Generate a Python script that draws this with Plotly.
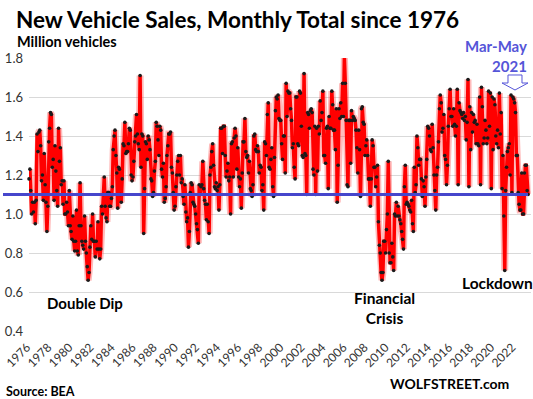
import plotly.graph_objects as go

# ---- data: monthly total new vehicle sales (million), Jan 1976 - Jun 2022 ----
y1976 = [1.18, 1.23, 1.12, 1.00, 1.06, 1.01, 1.06, 0.95, 1.07, 1.41, 1.32, 1.42]
y1977 = [1.43, 1.35, 1.17, 1.20, 1.07, 1.31, 1.15, 1.06, 0.91, 1.04, 1.37, 1.44]
y1978 = [1.52, 1.51, 1.24, 1.28, 1.07, 1.35, 1.22, 1.12, 1.04, 1.44, 1.27, 1.34]
y1979 = [1.15, 1.17, 1.05, 1.17, 1.00, 1.00, 1.06, 1.01, 0.94, 1.12, 0.94, 0.91]
y1980 = [0.87, 0.99, 0.86, 0.81, 0.86, 1.02, 0.81, 0.79, 0.94, 1.16, 0.94, 0.86]
y1981 = [0.84, 0.82, 0.99, 0.86, 0.80, 0.73, 0.66, 0.70, 0.83, 0.94, 0.87, 1.00]
y1982 = [0.86, 0.86, 0.78, 0.86, 0.82, 0.96, 0.82, 0.77, 0.82, 1.04, 1.00, 1.10]
y1983 = [1.19, 1.04, 0.98, 0.96, 1.11, 1.11, 1.04, 1.04, 1.08, 1.14, 1.33, 1.40]
y1984 = [1.43, 1.30, 1.21, 1.03, 1.24, 1.23, 1.10, 1.06, 1.18, 1.36, 1.35, 1.47]
y1985 = [1.31, 1.32, 1.32, 1.36, 1.44, 1.43, 1.20, 1.17, 1.19, 1.27, 1.37, 1.40]
y1986 = [1.51, 1.41, 1.36, 1.33, 1.71, 1.24, 1.41, 1.40, 0.90, 1.13, 1.37, 1.36]
y1987 = [1.28, 1.40, 1.38, 1.33, 1.18, 1.17, 1.09, 1.11, 1.22, 1.27, 1.47, 1.45]
y1988 = [1.38, 1.30, 1.45, 1.43, 1.23, 1.19, 1.26, 1.06, 1.08, 1.14, 1.30, 1.35]
y1989 = [1.41, 1.41, 1.42, 1.24, 1.21, 1.11, 1.02, 1.04, 1.14, 1.20, 1.27, 1.30]
y1990 = [1.20, 1.30, 1.16, 1.18, 1.09, 1.05, 1.15, 1.01, 0.96, 0.98, 0.83, 0.91]
y1991 = [1.11, 1.16, 1.15, 1.06, 1.05, 1.04, 1.00, 0.95, 0.92, 0.85, 1.15, 1.10]
y1992 = [1.14, 1.15, 1.27, 1.13, 1.07, 1.05, 0.97, 1.05, 0.96, 0.90, 1.20, 1.24]
y1993 = [1.32, 1.36, 1.25, 1.14, 1.13, 1.16, 1.12, 1.14, 1.02, 1.15, 1.44, 1.44]
y1994 = [1.31, 1.45, 1.45, 1.30, 1.19, 1.22, 1.26, 1.17, 1.19, 1.00, 1.36, 1.37]
y1995 = [1.19, 1.39, 1.44, 1.40, 1.23, 1.34, 1.19, 1.14, 1.18, 1.03, 1.21, 1.37]
y1996 = [1.37, 1.49, 1.32, 1.29, 1.30, 1.21, 1.27, 1.13, 1.12, 1.09, 1.15, 1.40]
y1997 = [1.41, 1.33, 1.32, 1.35, 1.32, 1.21, 1.25, 1.24, 1.12, 1.15, 1.02, 1.37]
y1998 = [1.36, 1.30, 1.51, 1.57, 1.24, 1.23, 1.28, 1.34, 1.14, 1.09, 1.29, 1.53]
y1999 = [1.60, 1.59, 1.61, 1.49, 1.48, 1.48, 1.36, 1.28, 1.40, 1.40, 1.21, 1.67]
y2000 = [1.50, 1.63, 1.62, 1.62, 1.54, 1.48, 1.34, 1.36, 1.24, 1.18, 1.60, 1.60]
y2001 = [1.36, 1.35, 1.63, 1.62, 1.45, 1.30, 1.29, 1.72, 1.31, 1.30, 1.10, 1.52]
y2002 = [1.51, 1.44, 1.53, 1.54, 1.52, 1.23, 1.20, 1.45, 1.10, 1.44, 1.22, 1.45]
y2003 = [1.41, 1.58, 1.48, 1.52, 1.63, 1.30, 1.30, 1.26, 1.44, 1.45, 1.13, 1.50]
y2004 = [1.44, 1.44, 1.63, 1.56, 1.43, 1.43, 1.33, 1.54, 1.06, 1.25, 1.54, 1.49]
y2005 = [1.57, 1.50, 1.67, 1.50, 1.81, 1.67, 1.48, 1.15, 1.14, 1.48, 1.48, 1.26]
y2006 = [1.53, 1.48, 1.50, 1.49, 1.48, 1.43, 1.34, 1.21, 1.43, 1.33, 1.09, 1.54]
y2007 = [1.55, 1.47, 1.46, 1.30, 1.35, 1.38, 1.30, 1.18, 1.18, 1.04, 1.18, 1.38]
y2008 = [1.35, 1.24, 1.24, 1.14, 1.19, 1.25, 0.96, 0.84, 0.80, 0.70, 0.66, 0.70]
y2009 = [0.86, 0.86, 0.80, 0.92, 1.00, 1.27, 0.80, 0.75, 0.75, 0.85, 0.78, 0.71]
y2010 = [1.00, 0.99, 1.06, 0.99, 1.04, 0.99, 0.97, 0.95, 0.91, 0.87, 0.82, 1.14]
y2011 = [1.25, 1.05, 1.06, 1.05, 1.04, 1.02, 1.01, 1.07, 0.95, 0.91, 1.24, 1.11]
y2012 = [1.15, 1.40, 1.34, 1.25, 1.28, 1.28, 1.18, 1.09, 1.17, 1.14, 1.04, 1.19]
y2013 = [1.28, 1.45, 1.44, 1.40, 1.33, 1.32, 1.46, 1.34, 1.20, 1.12, 1.02, 1.20]
y2014 = [1.24, 1.37, 1.54, 1.61, 1.57, 1.42, 1.44, 1.51, 1.30, 1.28, 1.15, 1.25]
y2015 = [1.45, 1.54, 1.64, 1.50, 1.50, 1.45, 1.54, 1.46, 1.40, 1.45, 1.64, 1.15]
y2016 = [1.57, 1.53, 1.52, 1.51, 1.49, 1.52, 1.48, 1.50, 1.38, 1.47, 1.69, 1.14]
y2017 = [1.55, 1.33, 1.52, 1.42, 1.51, 1.47, 1.48, 1.36, 1.46, 1.36, 1.35, 1.60]
y2018 = [1.15, 1.65, 1.55, 1.36, 1.39, 1.48, 1.43, 1.36, 1.39, 1.63, 1.45, 1.62]
y2019 = [1.13, 1.60, 1.33, 1.59, 1.56, 1.40, 1.36, 1.43, 1.34, 1.62, 1.41, 1.52]
y2020 = [1.13, 1.30, 0.99, 0.71, 1.12, 1.24, 1.32, 1.34, 1.36, 1.20, 1.61, 1.11]
y2021 = [1.60, 1.59, 1.57, 1.52, 1.30, 1.30, 1.11, 1.05, 1.02, 1.02, 1.21, 1.00]
y2022 = [1.00, 1.21, 1.25, 1.25, 1.12, 1.10]

yearly = [y1976, y1977, y1978, y1979, y1980, y1981, y1982, y1983, y1984, y1985,
          y1986, y1987, y1988, y1989, y1990, y1991, y1992, y1993, y1994, y1995,
          y1996, y1997, y1998, y1999, y2000, y2001, y2002, y2003, y2004, y2005,
          y2006, y2007, y2008, y2009, y2010, y2011, y2012, y2013, y2014, y2015,
          y2016, y2017, y2018, y2019, y2020, y2021, y2022]
sales = [v for yr in yearly for v in yr]
months = list(range(len(sales)))

tick_years = list(range(1976, 2023, 2))
tick_text = [str(y) for y in tick_years]
ref_level = 1.1

# ---- layout geometry (pixels) ----
W, H = 533, 399
L, R, T, B = 29, 2, 58, 68
PW, PH = W - L - R, H - T - B
XMAX = 560.3
# label spacing in the reference is slightly tighter than the data spacing
tickvals = [(y - 1976) * 11.77 for y in tick_years]

def px(x):
    return (x - L) / PW

def py(y):
    return (T + PH - y) / PH

FONT = "Lato"
BLUE = "#4646CC"
LBL = "#5555D8"

fig = go.Figure()
fig.add_trace(go.Scatter(x=months, y=sales, mode="lines",
                         line=dict(color="rgba(255,60,60,0.35)", width=7),
                         hoverinfo="skip", showlegend=False, cliponaxis=False))
fig.add_trace(go.Scatter(x=months, y=sales, mode="lines+markers",
                         line=dict(color="#FF0000", width=3.5),
                         marker=dict(color="#1a1a1a", size=3.6),
                         showlegend=False, cliponaxis=False))

fig.add_shape(type="line", xref="paper", yref="y", x0=px(3), x1=px(528),
              y0=ref_level, y1=ref_level, line=dict(color=BLUE, width=3))

# hollow down arrow under "Mar-May 2021"
pts = [(508, 75), (522, 75), (522, 83), (528, 83), (515, 90), (502, 83), (508, 83)]
path = "M " + " L ".join(f"{px(a):.5f},{py(b):.5f}" for a, b in pts) + " Z"
fig.add_shape(type="path", xref="paper", yref="paper", path=path,
              line=dict(color=LBL, width=1), fillcolor="white")

def note(text, x, y, size, color="black", xanchor="center", align="center"):
    fig.add_annotation(text=text, x=px(x), y=py(y), xref="paper", yref="paper",
                       xanchor=xanchor, yanchor="middle", showarrow=False,
                       align=align, font=dict(family=FONT, size=size, color=color))

note("<b>New Vehicle Sales, Monthly Total since 1976</b>", 14, 19, 22.5, xanchor="left")
note("<b>Million vehicles</b>", 15, 41, 14.5, xanchor="left")
note("<b>Mar-May<br>2021</b>", 529, 56, 15, color=LBL, xanchor="right", align="right")
note("<b>Double Dip</b>", 84.5, 303, 15)
note("<b>Financial<br>Crisis</b>", 384, 308, 15.5)
note("<b>Lockdown</b>", 497, 283, 15.5)
note("<b>Source: BEA</b>", 4, 391, 12.5, xanchor="left")
note("<b>WOLFSTREET.com</b>", 511, 383, 14, xanchor="right")

fig.update_layout(
    width=W, height=H, margin=dict(l=L, r=R, t=T, b=B),
    paper_bgcolor="white", plot_bgcolor="white",
    font=dict(family=FONT, size=12, color="#333"),
    xaxis=dict(range=[0, XMAX], tickmode="array", tickvals=tickvals,
               ticktext=tick_text, tickangle=-45, showgrid=False,
               zeroline=False, showline=False, ticks="",
               ticklabelshift=-2, ticklabelstandoff=6,
               tickfont=dict(size=12, color="#333")),
    yaxis=dict(range=[0.4, 1.8], dtick=0.2, tickformat=".1f",
               showgrid=True, gridcolor="#d9d9d9", gridwidth=1,
               zeroline=False, showline=False, ticks="",
               ticklabelstandoff=5,
               tickfont=dict(size=13, color="#333")),
)

fig.write_html("out.html", config={"displayModeBar": False},
               post_script="document.body.style.margin='0';document.body.style.overflow='hidden';")
